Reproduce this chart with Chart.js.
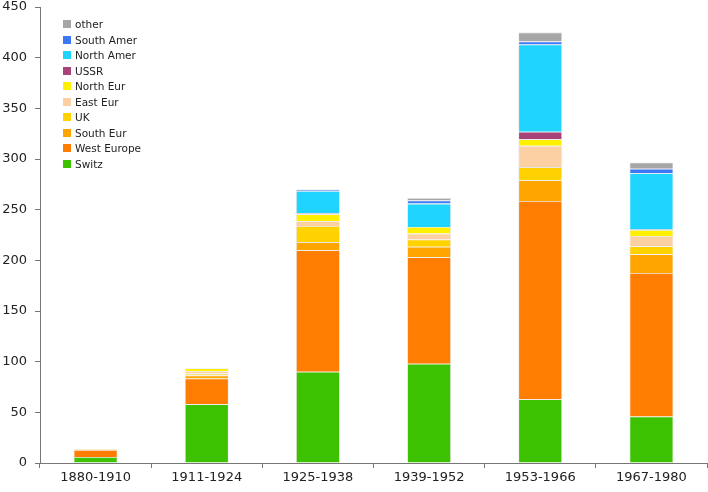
<!DOCTYPE html>
<html>
<head>
<meta charset="utf-8">
<script src="https://cdn.jsdelivr.net/npm/chart.js@4"></script>
<style>
  body { margin: 0; background: #fff; }
  #wrap { position: relative; width: 708px; height: 492px; }
  #legend { position: absolute; left: 63px; top: 17px; font-family: "DejaVu Sans", sans-serif; font-size: 10.5px; color: #222; }
  #legend div { height: 15.5px; line-height: 15.5px; white-space: nowrap; }
  #legend span { display: inline-block; width: 8px; height: 8px; margin-right: 4px; }
</style>
</head>
<body>
<div id="wrap">
  <canvas id="chart" width="708" height="492"></canvas>
  <div id="legend"></div>
</div>
<script>
// periods on the x axis
const periods = ['1880-1910', '1911-1924', '1925-1938', '1939-1952', '1953-1966', '1967-1980'];

// series values, bottom to top
const switz      = [6,   58,  90,  98,  63,   46];
const westEurope = [7,   25.5, 120, 105, 195.5, 141.5];
const southEur   = [0,   3,   8,   10.5, 20.5, 18.5];
const uk         = [0.7, 1.7, 16,  7,   13,   8];
const eastEur    = [0,   2.3, 4.5, 6,   21,   10];
const northEur   = [0,   3,   7,   6.5, 6.5,  6];
const ussr       = [0,   0,   1,   0,   7.5,  0.5];
const northAmer  = [0,   0,   22,  23,  86,   55.5];
const southAmer  = [0,   0,   1,   3,   3,    4.5];
const other      = [0,   0,   0.5, 2.5, 9,    6];

const yTicks = [0, 50, 100, 150, 200, 250, 300, 350, 400, 450];

const series = [
  { label: 'Switz', data: switz, color: '#3cc200' },
  { label: 'West Europe', data: westEurope, color: '#ff7d00' },
  { label: 'South Eur', data: southEur, color: '#ffa500' },
  { label: 'UK', data: uk, color: '#ffd200' },
  { label: 'East Eur', data: eastEur, color: '#fdd0a4' },
  { label: 'North Eur', data: northEur, color: '#fff000' },
  { label: 'USSR', data: ussr, color: '#a8437a' },
  { label: 'North Amer', data: northAmer, color: '#1fd5ff' },
  { label: 'South Amer', data: southAmer, color: '#3b78f7' },
  { label: 'other', data: other, color: '#a6a6a6' }
];

const font = { family: '"DejaVu Sans", sans-serif', size: 13 };

new Chart(document.getElementById('chart'), {
  type: 'bar',
  data: {
    labels: periods,
    datasets: series.map(s => ({
      label: s.label,
      data: s.data,
      backgroundColor: s.color,
      borderColor: 'rgba(215,215,215,0.6)',
      borderWidth: 0.8,
      barPercentage: 0.395,
      categoryPercentage: 1
    }))
  },
  options: {
    responsive: false,
    animation: false,
    layout: { padding: { top: 7, right: 1, left: 0, bottom: 0 } },
    plugins: { legend: { display: false }, tooltip: { enabled: false } },
    scales: {
      x: {
        stacked: true,
        grid: { drawOnChartArea: false, drawTicks: true, tickLength: 5, color: '#777', offset: true },
        border: { color: '#777' },
        ticks: { color: '#222', font: font, padding: 2 },
        afterFit: s => { s.height = 29; s.paddingLeft = 0; s.paddingRight = 0; }
      },
      y: {
        stacked: true,
        min: 0,
        max: 450,
        afterBuildTicks: s => { s.ticks = yTicks.map(v => ({ value: v })); },
        grid: { drawOnChartArea: false, drawTicks: true, tickLength: 5, color: '#777' },
        border: { color: '#777' },
        ticks: { color: '#222', font: font, padding: 8 },
        afterFit: s => { s.width = 40; s.paddingTop = 0; s.paddingBottom = 0; }
      }
    }
  }
});

// legend inside the plot, top entry is the last series
const legend = document.getElementById('legend');
series.slice().reverse().forEach(s => {
  const row = document.createElement('div');
  const box = document.createElement('span');
  box.style.background = s.color;
  row.appendChild(box);
  row.appendChild(document.createTextNode(s.label));
  legend.appendChild(row);
});
</script>
</body>
</html>
